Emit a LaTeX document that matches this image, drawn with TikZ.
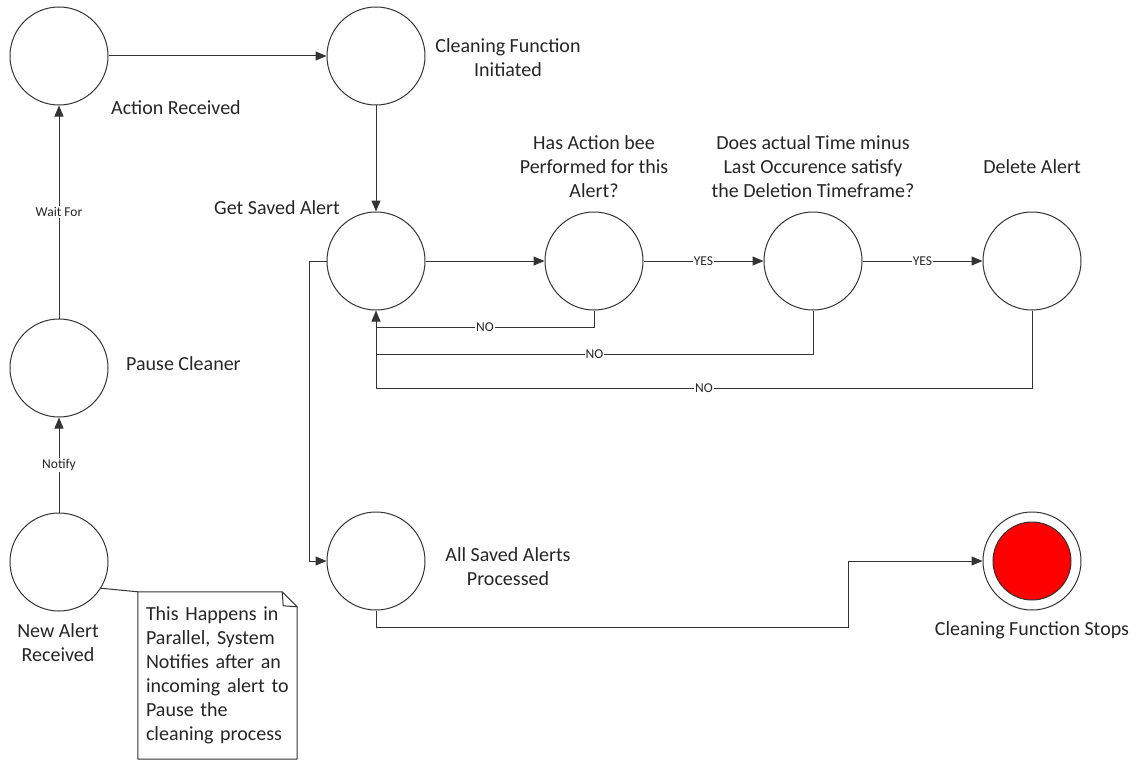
\documentclass[tikz,border=0pt]{standalone}
\usepackage{fontspec}
\setmainfont{Carlito}
\usetikzlibrary{arrows.meta,calc}
\begin{document}
\begin{tikzpicture}[x=1pt,y=-1pt,
 state/.style={circle,draw=black!80,line width=1pt,minimum size=98pt,inner sep=0pt},
 line/.style={draw=black!80,line width=1pt},
 arr/.style={line,-{Triangle[length=11pt,width=9pt]}},
 lbl/.style={fill=white,inner sep=1pt,text=black!85,font=\fontsize{13.5}{15}\selectfont},
 txt/.style={align=center,inner sep=0pt,text=black!85,font=\fontsize{20}{24}\selectfont},
 notebox/.style={inner ysep=0pt,inner xsep=8pt,text width=143pt,minimum height=167pt,align=left,text=black!85,font=\fontsize{20}{24}\selectfont}
]
\useasboundingbox (0,0) rectangle (1136,760);
\fill[white] (0,0) rectangle (1136,760);

% states
\node[state] (action) at (59,56) {};
\node[state] (init) at (376,56) {};
\node[state] (pause) at (59,368) {};
\node[state] (newalert) at (59,562) {};
\node[state] (get) at (376,261) {};
\node[state] (has) at (594,261) {};
\node[state] (does) at (813,261) {};
\node[state] (del) at (1032,261) {};
\node[state] (all) at (376,561) {};
\node[state] (endst) at (1032,561) {};
\node[circle,draw=black!80,line width=1pt,fill=red,minimum size=78pt,inner sep=0pt] (endin) at (endst) {};

% text labels
\node[txt,anchor=west] (tAction) at (111,108) {Action Received};
\node[txt] (tInit) at (508,58) {Cleaning Function\\Initiated};
\node[txt,anchor=west] (tPause) at (126,364) {Pause Cleaner};
\node[txt] (tGet) at (277,208) {Get Saved Alert};
\node[txt] (tHas) at (594,167) {Has Action bee\\Performed for this\\Alert?};
\node[txt] (tDoes) at (813,167) {Does actual Time minus\\Last Occurence satisfy\\the Deletion Timeframe?};
\node[txt] (tDel) at (1032,167) {Delete Alert};
\node[txt] (tNew) at (58,643) {New Alert\\Received};
\node[txt] (tAll) at (508,567) {All Saved Alerts\\Processed};
\node[txt] (tEnd) at (1032,630) {Cleaning Function Stops};

% note
\node[notebox] (note) at (217.5,675.5) {This Happens in\\Parallel, System\\Notifies after an\\incoming alert to\\Pause the\\cleaning process};
\draw[line,line join=round] (note.north west) -- ($(note.north east)+(-15,0)$) -- ($(note.north east)+(0,15)$) -- (note.south east) -- (note.south west) -- cycle;
\draw[line,line join=round] ($(note.north east)+(-15,0)$) -- ($(note.north east)+(-14,14)$) -- ($(note.north east)+(0,15)$);
\draw[line] (newalert.-32) -- (note.north west);

% connectors
\draw[arr] (action) -- (init);
\draw[arr] (init) -- (get);
\draw[arr] (pause) -- node[lbl]{Wait For} (action);
\draw[arr] (newalert) -- node[lbl]{Notify} (pause);
\draw[arr] (get) -- (has);
\draw[arr] (has) -- node[lbl]{YES} (does);
\draw[arr] (does) -- node[lbl]{YES} (del);

\coordinate (j1) at (376,327);
\coordinate (j2) at (376,354);
\coordinate (j3) at (376,388);
\draw[line] (has.south) |- node[lbl,pos=0.75]{NO} (j1);
\draw[line] (does.south) |- node[lbl,pos=0.75]{NO} (j2);
\draw[line] (del.south) |- node[lbl,pos=0.75]{NO} (j3);
\draw[arr] (j3) -- (get.south);

\coordinate (k0) at (309,261);
\draw[arr] (get.west) -- (k0) |- (all.west);
\coordinate (k1) at (848,627);
\draw[arr] (all.south) |- (k1) |- (endst.west);
\end{tikzpicture}
\end{document}
